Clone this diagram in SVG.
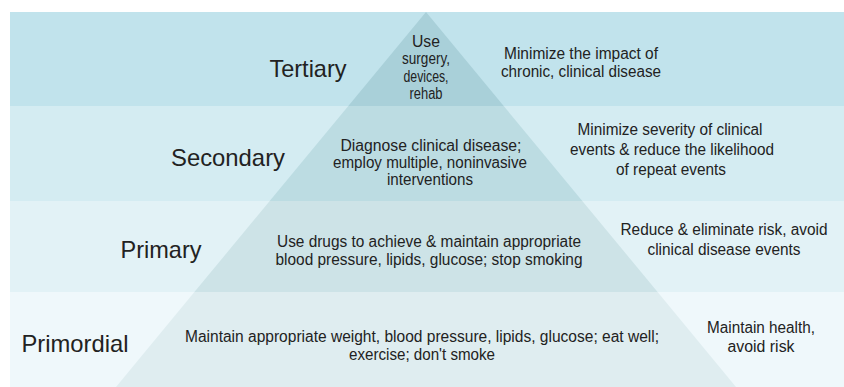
<svg xmlns="http://www.w3.org/2000/svg" width="844" height="387" viewBox="0 0 844 387">
<style>
.t{font-family:"Liberation Sans",Arial,sans-serif;fill:#222;text-anchor:middle}
.h{font-size:24px}
.b{font-size:16px}
</style>
<rect width="844" height="387" fill="#ffffff"/>
<g id="tertiary">
<rect x="10" y="12" width="834" height="94" fill="#c1e3ec"/>
<polygon points="426,12 503.7,106 348.3,106" fill="#a9d0d9"/>
<text class="t h" x="308" y="77" textLength="77" lengthAdjust="spacingAndGlyphs">Tertiary</text>
<text class="t b" x="426" y="47" textLength="28" lengthAdjust="spacingAndGlyphs">Use</text>
<text class="t b" x="426" y="64" textLength="48" lengthAdjust="spacingAndGlyphs">surgery,</text>
<text class="t b" x="426" y="82" textLength="45" lengthAdjust="spacingAndGlyphs">devices,</text>
<text class="t b" x="426" y="99" textLength="33" lengthAdjust="spacingAndGlyphs">rehab</text>
<text class="t b" x="581" y="59" textLength="154" lengthAdjust="spacingAndGlyphs">Minimize the impact of</text>
<text class="t b" x="581" y="77" textLength="160" lengthAdjust="spacingAndGlyphs">chronic, clinical disease</text>
</g>
<g id="secondary">
<rect x="10" y="106" width="834" height="95" fill="#d4ecf2"/>
<polygon points="348.3,106 503.7,106 582.3,201 269.7,201" fill="#bcdce2"/>
<text class="t h" x="228" y="166" textLength="114" lengthAdjust="spacingAndGlyphs">Secondary</text>
<text class="t b" x="431" y="151" textLength="181" lengthAdjust="spacingAndGlyphs">Diagnose clinical disease;</text>
<text class="t b" x="430" y="168" textLength="194" lengthAdjust="spacingAndGlyphs">employ multiple, noninvasive</text>
<text class="t b" x="430" y="185" textLength="86" lengthAdjust="spacingAndGlyphs">interventions</text>
<text class="t b" x="670" y="135" textLength="185" lengthAdjust="spacingAndGlyphs">Minimize severity of clinical</text>
<text class="t b" x="672" y="155" textLength="204" lengthAdjust="spacingAndGlyphs">events &amp; reduce the likelihood</text>
<text class="t b" x="671" y="175" textLength="110" lengthAdjust="spacingAndGlyphs">of repeat events</text>
</g>
<g id="primary">
<rect x="10" y="201" width="834" height="91" fill="#e2f2f6"/>
<polygon points="269.7,201 582.3,201 657.6,292 194.4,292" fill="#cde3e7"/>
<text class="t h" x="161" y="258" textLength="81" lengthAdjust="spacingAndGlyphs">Primary</text>
<text class="t b" x="429" y="247" textLength="304" lengthAdjust="spacingAndGlyphs">Use drugs to achieve &amp; maintain appropriate</text>
<text class="t b" x="429" y="265" textLength="307" lengthAdjust="spacingAndGlyphs">blood pressure, lipids, glucose; stop smoking</text>
<text class="t b" x="724" y="235" textLength="207" lengthAdjust="spacingAndGlyphs">Reduce &amp; eliminate risk, avoid</text>
<text class="t b" x="724" y="255" textLength="153" lengthAdjust="spacingAndGlyphs">clinical disease events</text>
</g>
<g id="primordial">
<rect x="10" y="292" width="834" height="95" fill="#eff8fb"/>
<polygon points="194.4,292 657.6,292 736,387 116,387" fill="#dfedf0"/>
<text class="t h" x="75" y="352" textLength="107" lengthAdjust="spacingAndGlyphs">Primordial</text>
<text class="t b" x="422" y="342" textLength="474" lengthAdjust="spacingAndGlyphs">Maintain appropriate weight, blood pressure, lipids, glucose; eat well;</text>
<text class="t b" x="422" y="360" textLength="146" lengthAdjust="spacingAndGlyphs">exercise; don't smoke</text>
<text class="t b" x="761" y="333" textLength="108" lengthAdjust="spacingAndGlyphs">Maintain health,</text>
<text class="t b" x="761" y="352" textLength="67" lengthAdjust="spacingAndGlyphs">avoid risk</text>
</g>
<g id="connectors"/>
</svg>
